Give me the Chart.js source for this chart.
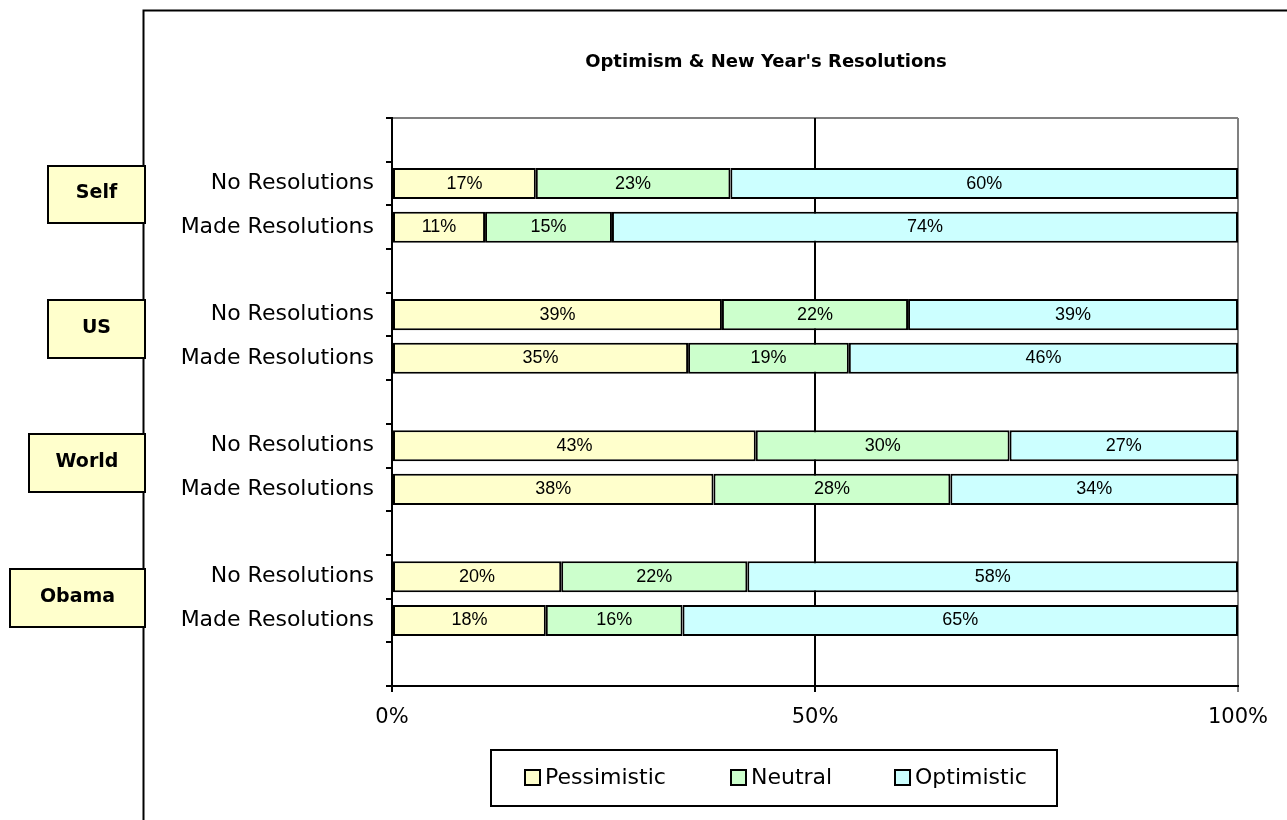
<!DOCTYPE html>
<html>
<head>
<meta charset="utf-8">
<title>Optimism & New Year's Resolutions</title>
<script src="https://cdn.jsdelivr.net/npm/chart.js@4.4.1/dist/chart.umd.min.js"></script>
<style>
  html, body { margin: 0; padding: 0; background: #fff; }
  #wrap { width: 1287px; height: 820px; }
</style>
</head>
<body>
<div id="wrap"><canvas id="chart" width="1287" height="820"></canvas></div>
<script>
// rows top to bottom, '' = spacer row between groups
const rows = ['', 'No Resolutions', 'Made Resolutions', '', 'No Resolutions', 'Made Resolutions', '',
  'No Resolutions', 'Made Resolutions', '', 'No Resolutions', 'Made Resolutions', ''];

const groups = ['Self', 'US', 'World', 'Obama'];

const pessimistic = [null, 17, 11, null, 39, 35, null, 43, 38, null, 20, 18, null];
const neutral     = [null, 23, 15, null, 22, 19, null, 30, 28, null, 22, 16, null];
const optimistic  = [null, 60, 74, null, 39, 46, null, 27, 34, null, 58, 65, null];

const xTicks = [0, 50, 100];

// 100% stacked: share of each row's total
const totals = rows.map((r, i) => (pessimistic[i] || 0) + (neutral[i] || 0) + (optimistic[i] || 0));
const share = arr => arr.map((v, i) => v == null ? null : v / totals[i] * 100);

const FONT = "'DejaVu Sans', Verdana, sans-serif";

// group label boxes (left, top, right, bottom)
const groupBoxLayout = [
  [48, 166, 145, 223],
  [48, 300, 145, 358],
  [29, 434, 145, 492],
  [10, 569, 145, 627]
];

const decorPlugin = {
  id: 'decor',
  beforeDraw(chart) {
    const ctx = chart.ctx;
    const a = chart.chartArea;
    ctx.save();
    ctx.fillStyle = '#fff';
    ctx.fillRect(0, 0, chart.width, chart.height);
    // outer chart frame
    ctx.strokeStyle = '#000';
    ctx.lineWidth = 2;
    ctx.beginPath();
    ctx.moveTo(143.5, chart.height + 2);
    ctx.lineTo(143.5, 10.5);
    ctx.lineTo(chart.width + 2, 10.5);
    ctx.stroke();
    // plot area top border
    ctx.strokeStyle = '#808080';
    ctx.beginPath();
    ctx.moveTo(a.left, a.top);
    ctx.lineTo(a.right, a.top);
    ctx.stroke();
    // title
    ctx.fillStyle = '#000';
    ctx.font = 'bold 18px ' + FONT;
    ctx.textAlign = 'center';
    ctx.textBaseline = 'middle';
    ctx.fillText("Optimism & New Year's Resolutions", 766, 62);
    ctx.restore();
  },
  afterDraw(chart) {
    const ctx = chart.ctx;
    ctx.save();
    // group boxes
    groups.forEach((g, i) => {
      const [l, t, r, b] = groupBoxLayout[i];
      ctx.fillStyle = '#ffffcc';
      ctx.fillRect(l, t, r - l, b - t);
      ctx.strokeStyle = '#000';
      ctx.lineWidth = 2;
      ctx.strokeRect(l, t, r - l, b - t);
      ctx.fillStyle = '#000';
      ctx.font = 'bold 19px ' + FONT;
      ctx.textAlign = 'center';
      ctx.textBaseline = 'middle';
      ctx.fillText(g, (l + r) / 2, (t + b) / 2 - 1);
    });
    // data labels
    ctx.font = "18px 'Liberation Sans', Arial, sans-serif";
    ctx.textAlign = 'center';
    ctx.textBaseline = 'middle';
    ctx.fillStyle = '#000';
    chart.data.datasets.forEach((ds, di) => {
      chart.getDatasetMeta(di).data.forEach((el, i) => {
        const v = ds.raw[i];
        if (v == null) return;
        const p = el.getProps(['x', 'y', 'base'], true);
        ctx.fillText(v + '%', (p.x + p.base) / 2, p.y);
      });
    });
    // legend
    const lx = 491, ly = 750, lw = 566, lh = 56;
    ctx.fillStyle = '#fff';
    ctx.fillRect(lx, ly, lw, lh);
    ctx.strokeStyle = '#000';
    ctx.lineWidth = 2;
    ctx.strokeRect(lx, ly, lw, lh);
    const itemX = [525, 731, 895];
    ctx.font = '22px ' + FONT;
    ctx.textAlign = 'left';
    chart.data.datasets.forEach((ds, di) => {
      const x = itemX[di], cy = 777;
      ctx.fillStyle = ds.backgroundColor;
      ctx.fillRect(x, cy - 7, 15, 15);
      ctx.lineWidth = 2;
      ctx.strokeRect(x, cy - 7, 15, 15);
      ctx.fillStyle = '#000';
      ctx.fillText(ds.label, x + 20, cy + 1);
    });
    ctx.restore();
  }
};

const mkSet = (label, raw, color) => ({
  label: label,
  raw: raw,
  data: share(raw),
  backgroundColor: color,
  borderColor: '#000',
  borderWidth: 2,
  borderSkipped: false,
  categoryPercentage: 1,
  barPercentage: 0.71
});

new Chart(document.getElementById('chart'), {
  type: 'bar',
  data: {
    labels: rows,
    datasets: [
      mkSet('Pessimistic', pessimistic, '#ffffcc'),
      mkSet('Neutral', neutral, '#ccffcc'),
      mkSet('Optimistic', optimistic, '#ccffff')
    ]
  },
  options: {
    indexAxis: 'y',
    responsive: false,
    animation: false,
    layout: { padding: { left: 150, right: 49, top: 118, bottom: 84 } },
    plugins: {
      legend: { display: false },
      title: { display: false },
      tooltip: { enabled: false }
    },
    scales: {
      x: {
        stacked: true,
        min: 0,
        max: 100,
        afterBuildTicks: s => { s.ticks = xTicks.map(v => ({ value: v })); },
        afterFit: s => { s.height = 50; },
        ticks: {
          callback: v => v + '%',
          color: '#000',
          font: { family: FONT, size: 21 },
          padding: 13,
          maxRotation: 0
        },
        grid: {
          color: c => c.tick && c.tick.value === 100 ? '#808080' : '#000',
          lineWidth: 2,
          tickLength: 6,
          drawOnChartArea: true
        },
        border: { display: true, color: '#000', width: 2 }
      },
      y: {
        stacked: true,
        afterFit: s => { s.width = 242; },
        ticks: {
          color: '#000',
          font: { family: FONT, size: 22 },
          padding: 12,
          autoSkip: false
        },
        grid: {
          offset: true,
          drawOnChartArea: false,
          color: '#000',
          lineWidth: 2,
          tickLength: 6
        },
        border: { display: true, color: '#000', width: 2 }
      }
    }
  },
  plugins: [decorPlugin]
});
</script>
</body>
</html>
